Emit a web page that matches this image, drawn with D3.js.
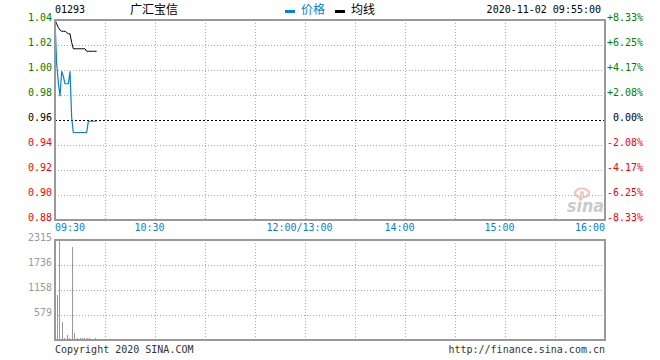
<!DOCTYPE html>
<html><head><meta charset="utf-8">
<script src="https://cdn.jsdelivr.net/npm/d3@7"></script>
<style>
html,body{margin:0;padding:0;background:#fff;}
svg{display:block;}
.mono{font-family:"DejaVu Sans Mono","Liberation Mono",monospace;font-size:10px;}
.cjk{font-family:"Noto Sans CJK SC",sans-serif;font-size:12px;}
</style></head>
<body>
<script>
// ---- data ----
const stockCode = "01293";
const stockName = "广汇宝信";
const stamp = "2020-11-02 09:55:00";
const prevClose = 0.96;
const priceTicks = [0.88, 0.90, 0.92, 0.94, 0.96, 0.98, 1.00, 1.02, 1.04];
const volTicks = [579, 1158, 1736, 2315];
const timeLabels = ["09:30", "10:30", "12:00/13:00", "14:00", "15:00", "16:00"];
const timeLabelMinutes = [0, 60, 150, 210, 270, 330];
const gridMinutes = [30, 60, 90, 120, 150, 180, 210, 240, 270, 300];
// one entry per minute from 09:30 to 09:55
const minutes = d3.range(0, 26);
const price = [1.04, 1.005, 0.99, 0.979, 0.999, 0.995, 0.989, 0.989, 0.989, 0.999,
               0.962, 0.95, 0.95, 0.95, 0.95, 0.95, 0.95, 0.95, 0.95, 0.95,
               0.959, 0.959, 0.959, 0.959, 0.959, 0.959];
const avgPrice = [1.04, 1.037, 1.034, 1.032, 1.031, 1.031, 1.031, 1.030, 1.029, 1.029,
                  1.022, 1.017, 1.017, 1.017, 1.017, 1.017, 1.017, 1.017, 1.017, 1.015,
                  1.015, 1.015, 1.015, 1.015, 1.015, 1.015];
const volume = [0, 1042, 2315, 0, 410, 35, 0, 116, 35, 0,
                2153, 162, 0, 35, 0, 53, 35, 35, 0, 35,
                35, 0, 0, 0, 35, 0];

// ---- layout ----
const W = 660, H = 360;
const L = 55, R = 605;
const pTop = 20, pBot = 220, vTop = 240, vBot = 340;
const blue = "#0a80d0", gray = "#999", green = "#008000", red = "#ff0000";

const svg = d3.select("body").append("svg").attr("width", W).attr("height", H);

const x = d3.scaleLinear().domain([0, 330]).range([L, R]);
const y = d3.scaleLinear().domain([0.88, 1.04]).range([pBot, pTop]);
const vy = d3.scaleLinear().domain([0, 2315]).range([vBot, vTop]);

// header
svg.append("text").attr("class", "mono").attr("x", L).attr("y", 13).text(stockCode);
svg.append("text").attr("class", "cjk").attr("x", 130).attr("y", 14).text(stockName);
svg.append("rect").attr("x", 285).attr("y", 10).attr("width", 10).attr("height", 3).attr("fill", blue);
svg.append("text").attr("class", "cjk").attr("x", 301).attr("y", 14).attr("fill", blue).text("价格");
svg.append("rect").attr("x", 335).attr("y", 10).attr("width", 10).attr("height", 3).attr("fill", "#000");
svg.append("text").attr("class", "cjk").attr("x", 351).attr("y", 14).attr("fill", "#000").text("均线");
svg.append("text").attr("class", "mono").attr("x", 601).attr("y", 13).attr("text-anchor", "end").text(stamp);

// sina watermark
const wm = svg.append("g").attr("opacity", 0.5);
wm.append("ellipse").attr("cx", 582).attr("cy", 193).attr("rx", 7).attr("ry", 4.5)
  .attr("fill", "none").attr("stroke", "#f08080").attr("stroke-width", 2.2);
wm.append("circle").attr("cx", 582).attr("cy", 193).attr("r", 2).attr("fill", "#f08080");
wm.append("text").attr("x", 567).attr("y", 212).attr("font-family", "DejaVu Sans, sans-serif")
  .attr("font-size", 18).attr("font-weight", "bold").attr("font-style", "italic")
  .attr("textLength", 37).attr("lengthAdjust", "spacingAndGlyphs")
  .attr("fill", "#999").text("sina");

// ---- price panel grid ----
const pg = svg.append("g").attr("shape-rendering", "crispEdges");
priceTicks.forEach(v => {
  if (v === 0.88 || v === 1.04) return;
  const yy = Math.round(y(v)) + 0.5;
  pg.append("line").attr("x1", L).attr("x2", R).attr("y1", yy).attr("y2", yy)
    .attr("stroke", v === prevClose ? "#000" : "#aaa")
    .attr("stroke-dasharray", v === prevClose ? "2,2" : "1,2");
});
gridMinutes.forEach(m => {
  const xx = Math.round(x(m)) + 0.5;
  pg.append("line").attr("x1", xx).attr("x2", xx).attr("y1", pTop).attr("y2", pBot)
    .attr("stroke", "#aaa").attr("stroke-dasharray", "1,2");
  pg.append("line").attr("x1", xx).attr("x2", xx).attr("y1", vTop).attr("y2", vBot)
    .attr("stroke", "#aaa").attr("stroke-dasharray", "1,2");
});
volTicks.forEach(v => {
  if (v === 2315) return;
  const yy = Math.round(vy(v)) + 0.5;
  pg.append("line").attr("x1", L).attr("x2", R).attr("y1", yy).attr("y2", yy)
    .attr("stroke", "#aaa").attr("stroke-dasharray", "1,2");
});

// price axis labels
priceTicks.forEach(v => {
  const col = v > prevClose + 1e-9 ? green : (v < prevClose - 1e-9 ? red : "#000");
  const pct = (v - prevClose) / prevClose * 100;
  const pctTxt = (pct > 0.001 ? "+" : "") + (Math.abs(pct) < 0.001 ? "0.00" : pct.toFixed(2)) + "%";
  svg.append("text").attr("class", "mono").attr("x", 52).attr("y", y(v) + 1)
    .attr("text-anchor", "end").attr("fill", col).text(v.toFixed(2));
  svg.append("text").attr("class", "mono").attr("x", 643).attr("y", y(v) + 1)
    .attr("text-anchor", "end").attr("fill", col).text(pctTxt);
});

// time labels
timeLabels.forEach((t, i) => {
  const m = timeLabelMinutes[i];
  let anchor = "middle", xx = x(m) - 5.5;
  if (i === 0) { anchor = "start"; xx = x(m); }
  if (i === timeLabels.length - 1) { anchor = "end"; xx = x(m); }
  svg.append("text").attr("class", "mono").attr("x", xx).attr("y", 231)
    .attr("text-anchor", anchor).attr("fill", blue).text(t);
});

// volume labels
volTicks.forEach(v => {
  svg.append("text").attr("class", "mono").attr("x", 52).attr("y", vy(v) + 1.3)
    .attr("text-anchor", "end").attr("fill", gray).text(v);
});

// volume bars
svg.append("g").attr("shape-rendering", "crispEdges").selectAll("rect")
  .data(minutes.filter(i => volume[i] > 0)).join("rect")
  .attr("x", i => Math.ceil(x(i)))
  .attr("width", 1)
  .attr("y", i => vy(volume[i]))
  .attr("height", i => vBot - vy(volume[i]))
  .attr("fill", gray);

// lines
const line = arr => d3.line().x(i => x(i)).y(i => y(arr[i]))(minutes);
svg.append("path").attr("d", line(avgPrice)).attr("fill", "none").attr("stroke", "#000").attr("stroke-width", 1);
svg.append("path").attr("d", line(price)).attr("fill", "none").attr("stroke", blue).attr("stroke-width", 1.2);

// frames
const fr = svg.append("g").attr("shape-rendering", "crispEdges").attr("fill", "none").attr("stroke", gray).attr("stroke-width", 1.5);
fr.append("rect").attr("x", L).attr("y", pTop).attr("width", R - L).attr("height", pBot - pTop);
fr.append("rect").attr("x", L).attr("y", vTop).attr("width", R - L).attr("height", vBot - vTop);

// footer
svg.append("text").attr("class", "mono").attr("x", L).attr("y", 353).attr("fill", "#333").text("Copyright 2020 SINA.COM");
svg.append("text").attr("class", "mono").attr("x", R).attr("y", 353).attr("text-anchor", "end").attr("fill", "#333").text("http://finance.sina.com.cn");
</script>
</body></html>
